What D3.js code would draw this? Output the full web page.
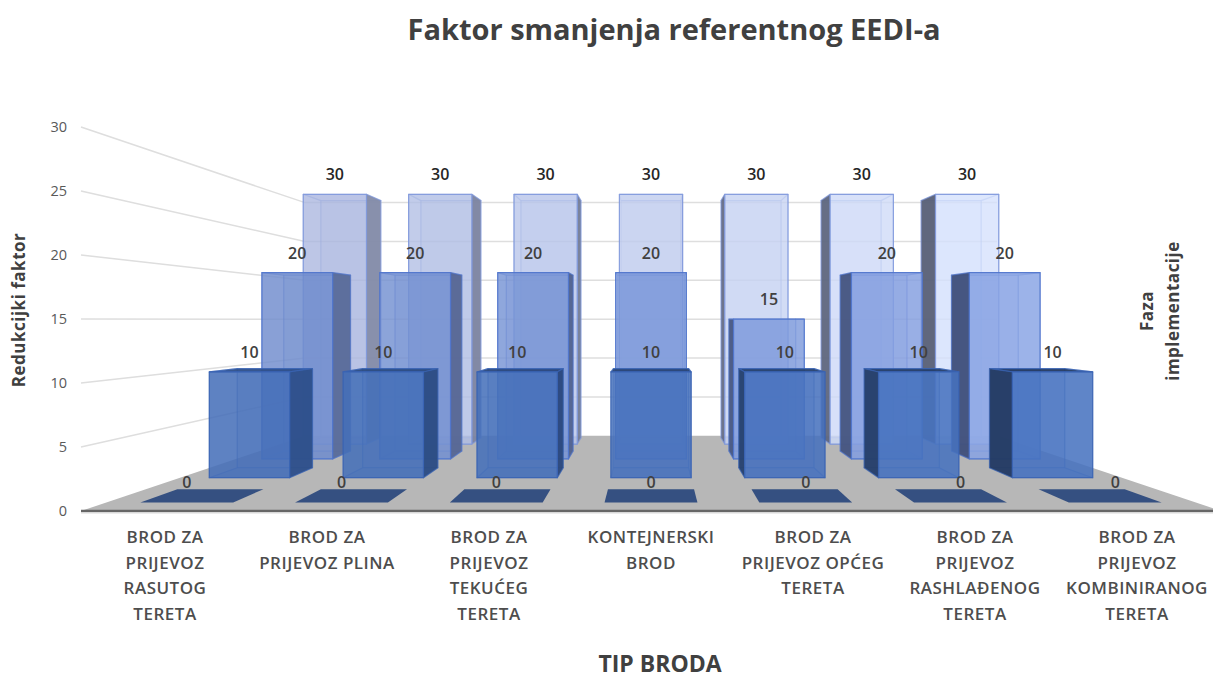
<!DOCTYPE html>
<html>
<head>
<meta charset="utf-8">
<script src="https://d3js.org/d3.v7.min.js"></script>
<style>
  body { margin: 0; background: #fff; }
  text { font-family: "Open Sans", sans-serif; }
</style>
</head>
<body>
<svg id="vis"></svg>

<script>
  // chart values, front row first
  var categories = [
    'BROD ZA|PRIJEVOZ|RASUTOG|TERETA',
    'BROD ZA|PRIJEVOZ PLINA',
    'BROD ZA|PRIJEVOZ|TEKUĆEG|TERETA',
    'KONTEJNERSKI|BROD',
    'BROD ZA|PRIJEVOZ OPĆEG|TERETA',
    'BROD ZA|PRIJEVOZ|RASHLAĐENOG|TERETA',
    'BROD ZA|PRIJEVOZ|KOMBINIRANOG|TERETA'
  ];
  var phases = ['Faza 0', 'Faza 1', 'Faza 2', 'Faza 3'];
  var phase0 = [0, 0, 0, 0, 0, 0, 0];
  var phase1 = [10, 10, 10, 10, 10, 10, 10];
  var phase2 = [20, 20, 20, 20, 15, 20, 20];
  var phase3 = [30, 30, 30, 30, 30, 30, 30];
  var yTicks = [0, 5, 10, 15, 20, 25, 30];

  var width = 1213;
  var height = 679;

  var svg = d3.select('#vis')
      .attr('width', width)
      .attr('height', height)
      .style('display', 'block');

  // scales on the front plane of the box
  var xscale = d3.scaleBand()
      .domain(categories)
      .range([84, 1218])
      .paddingInner(0.4)
      .paddingOuter(0.2);

  // the category text sits a little wider than the bars
  var labelScale = d3.scalePoint()
      .domain(categories)
      .range([165, 1137]);

  var yscale = d3.scaleLinear()
      .domain([0, 30])
      .range([511, 127]);

  // depth: 0 is the front of the floor, 0.647 the back wall
  var maxDepth = 0.647;
  var zscale = d3.scaleBand()
      .domain(phases)
      .range([0.006, 0.66])
      .paddingInner(0.5)
      .paddingOuter(0.25);

  // vanishing point
  var vx = 651;
  var vy = 319.5;

  function project(px, value, depth) {
    var s = 1 / (1 + depth);
    return [vx + (px - vx) * s, vy + (yscale(value) - vy) * s];
  }

  function pts(list) {
    return list.map(function(p) { return p.join(','); }).join(' ');
  }

  // left to right colours per phase
  var frontCol = [
    ['#355081', '#355081'],
    ['#456fb8', '#4672bf'],
    ['#6f8ccd', '#87a2e4'],
    ['#a9b6df', '#d4e0fc']
  ];
  var sideCol = [
    ['#2c4470', '#2c4470'],
    ['#2d4f8a', '#233a62'],
    ['#5a6b99', '#3f4f7a'],
    ['#838ba8', '#575f76']
  ];
  var lineCol = ['#355081', '#3a64b4', '#4f74cc', '#7f98dc'];
  var frontAlpha = [1, 0.85, 0.8, 0.75];

  // Add gridlines on the left and back walls
  var grid = svg.append('g');
  var boxLeft = 81;
  var boxRight = 1221;

  grid.selectAll('polyline')
      .data(yTicks.filter(function(d) { return d > 0; }))
      .enter().append('polyline')
      .attr('points', function(d) {
        return pts([
          project(boxLeft, d, 0),
          project(boxLeft, d, maxDepth),
          project(boxRight, d, maxDepth)
        ]);
      })
      .attr('fill', 'none')
      .attr('stroke', '#dedede')
      .attr('stroke-width', 1.5);

  // Add floor
  svg.append('polygon')
      .attr('points', pts([
        project(boxLeft, 0, 0),
        project(boxRight, 0, 0),
        project(boxRight, 0, maxDepth),
        project(boxLeft, 0, maxDepth)
      ]))
      .attr('fill', '#b7b7b7');

  svg.append('line')
      .attr('x1', boxLeft)
      .attr('x2', width)
      .attr('y1', yscale(0))
      .attr('y2', yscale(0))
      .attr('stroke', '#666')
      .attr('stroke-width', 2.5);

  svg.append('line')
      .attr('x1', boxLeft)
      .attr('x2', width)
      .attr('y1', yscale(0) + 2)
      .attr('y2', yscale(0) + 2)
      .attr('stroke', '#d9d9d9')
      .attr('stroke-width', 1);

  // one box: hidden faces show through the transparent front
  function drawBar(g, cat, i, value, row) {
    var x0 = xscale(cat);
    var x1 = x0 + xscale.bandwidth();
    var z0 = zscale(phases[row]);
    var z1 = z0 + zscale.bandwidth();
    var t = i / (categories.length - 1);
    var fill = d3.interpolateRgb(frontCol[row][0], frontCol[row][1])(t);
    var side = d3.interpolateRgb(sideCol[row][0], sideCol[row][1])(t);
    var stroke = lineCol[row];

    function face(corners, color, alpha, edge) {
      g.append('polygon')
          .attr('points', pts(corners))
          .attr('fill', color)
          .attr('fill-opacity', alpha)
          .attr('stroke', stroke)
          .attr('stroke-opacity', edge)
          .attr('stroke-width', 1.2)
          .attr('stroke-linejoin', 'round');
    }

    if (value === 0) {
      g.append('polygon')
          .attr('points', pts([
            project(x0, 0, z0), project(x1, 0, z0),
            project(x1, 0, z1), project(x0, 0, z1)
          ]))
          .attr('fill', fill);
      return;
    }

    // back, bottom and the far side
    face([project(x0, 0, z1), project(x1, 0, z1), project(x1, value, z1), project(x0, value, z1)], fill, 0.28, 0.35);
    face([project(x0, 0, z0), project(x1, 0, z0), project(x1, 0, z1), project(x0, 0, z1)], fill, 0.3, 0.35);

    var hiddenX = x1 < vx ? x0 : x1;
    var visibleX = x1 < vx ? x1 : x0;
    face([project(hiddenX, 0, z0), project(hiddenX, 0, z1), project(hiddenX, value, z1), project(hiddenX, value, z0)], fill, 0.12, 0.35);

    // top: solid only when seen from above
    var topFace = [project(x0, value, z0), project(x1, value, z0), project(x1, value, z1), project(x0, value, z1)];
    if (value < 15) {
      face(topFace, side, 0.95, 0.8);
    } else {
      face(topFace, fill, 0.2, 0.35);
    }

    // side towards the middle, only when it faces the viewer
    if (x1 < vx || x0 > vx) {
      face([project(visibleX, 0, z0), project(visibleX, 0, z1), project(visibleX, value, z1), project(visibleX, value, z0)], side, 0.95, 0.6);
    }

    face([project(x0, 0, z0), project(x1, 0, z0), project(x1, value, z0), project(x0, value, z0)], fill, frontAlpha[row], 0.9);
  }

  // Add bars, back row first
  var rows = [phase0, phase1, phase2, phase3];
  var bars = svg.append('g');
  d3.range(phases.length - 1, -1, -1).forEach(function(row) {
    var rowGroup = bars.append('g').attr('class', 'row-' + row);
    categories.forEach(function(cat, i) {
      drawBar(rowGroup, cat, i, rows[row][i], row);
    });
  });

  // Add value labels
  rows.forEach(function(values, row) {
    svg.append('g').selectAll('text')
        .data(values)
        .enter().append('text')
        .attr('x', function(d, i) {
          return project(xscale(categories[i]) + xscale.bandwidth() / 2, d, zscale(phases[row]))[0];
        })
        .attr('y', function(d) { return project(0, d, zscale(phases[row]))[1] - 20; })
        .attr('text-anchor', 'middle')
        .attr('dominant-baseline', 'central')
        .attr('font-size', 16)
        .attr('font-weight', 600)
        .attr('fill', row === 3 ? '#262626' : '#404040')
        .text(function(d) { return d; });
  });

  // Add y axis tick labels
  var yAxis = svg.append('g')
      .attr('transform', 'translate(74,0)')
      .call(d3.axisLeft(yscale).tickValues(yTicks).tickSize(0).tickPadding(7));
  yAxis.select('.domain').remove();
  yAxis.selectAll('text')
      .attr('font-family', '"Open Sans", sans-serif')
      .attr('font-size', 14.5)
      .attr('fill', '#595959');

  // Add category labels, one text per line
  var catLabels = svg.append('g').selectAll('text')
      .data(categories)
      .enter().append('text')
      .attr('text-anchor', 'middle')
      .attr('font-size', 17)
      .attr('letter-spacing', 0.5)
      .attr('font-weight', 600)
      .attr('fill', '#4d4d4d');

  catLabels.selectAll('tspan')
      .data(function(d) {
        return d.split('|').map(function(line) { return { cat: d, line: line }; });
      })
      .enter().append('tspan')
      .attr('x', function(d) { return labelScale(d.cat); })
      .attr('y', function(d, i) { return 543 + i * 25.6; })
      .text(function(d) { return d.line; });

  // Add titles
  svg.append('text')
      .attr('x', 674)
      .attr('y', 40)
      .attr('text-anchor', 'middle')
      .attr('font-size', 29)
      .attr('font-weight', 700)
      .attr('fill', '#404040')
      .text('Faktor smanjenja referentnog EEDI-a');

  svg.append('text')
      .attr('x', 660)
      .attr('y', 672)
      .attr('text-anchor', 'middle')
      .attr('font-size', 23)
      .attr('font-weight', 700)
      .attr('fill', '#404040')
      .text('TIP BRODA');

  svg.append('text')
      .attr('transform', 'translate(25,310) rotate(-90)')
      .attr('text-anchor', 'middle')
      .attr('font-size', 17)
      .attr('letter-spacing', 0.5)
      .attr('font-weight', 700)
      .attr('fill', '#404040')
      .text('Redukcijki faktor');

  var depthTitle = svg.append('text')
      .attr('transform', 'translate(1153,311) rotate(-90)')
      .attr('text-anchor', 'middle')
      .attr('font-size', 17)
      .attr('letter-spacing', 0.5)
      .attr('font-weight', 700)
      .attr('fill', '#404040');
  depthTitle.append('tspan').attr('x', 0).attr('y', 0).text('Faza');
  depthTitle.append('tspan').attr('x', 0).attr('y', 26).text('implementacije');
</script>
</body>
</html>
